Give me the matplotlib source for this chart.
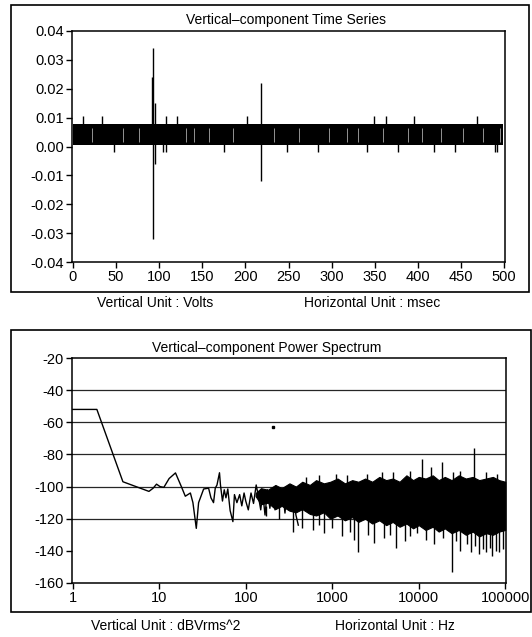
import numpy as np
import matplotlib
matplotlib.use("Agg")
import matplotlib.pyplot as plt
from matplotlib.patches import Rectangle

plt.rcParams['font.family'] = ['Liberation Sans', 'DejaVu Sans']
plt.rcParams['font.size'] = 10
plt.rcParams['axes.unicode_minus'] = False

# ---------- time series data (msec, volts) ----------
band_t = [0, 499]
band_lo = [0.0005, 0.0005]
band_hi = [0.0077, 0.0077]
spike_t = [12.3, 33.5, 47.7, 91.4, 92.6, 92.6, 95.3, 95.3, 104, 108, 108, 120.3,
           175.4, 201.7, 217.8, 217.8, 247.7, 283.7, 341.4, 349, 363, 376.4,
           396, 419, 443, 468.4, 489, 491.6]
spike_v = [0.0105, 0.0105, -0.0018, 0.024, 0.034, -0.032, 0.015, -0.006, -0.002,
           0.0105, -0.002, 0.0105, -0.002, 0.0105, 0.022, -0.012, -0.002, -0.002,
           -0.002, 0.0105, 0.0105, -0.002, 0.0105, -0.002, -0.002, 0.0105,
           -0.002, -0.002]
gap_t = [22, 58, 77, 131, 140, 158, 186, 233, 262, 297, 318, 330, 359, 388, 405,
         427, 452, 476, 495]

# ---------- power spectrum data (Hz, dBVrms^2) ----------
trace_f = [1, 1.9, 3.8, 7.6, 8.5, 9.3, 10.2, 11.3, 13, 15.4, 18, 20, 22.9, 24.5,
           26.8, 28.5, 32.6, 37.2, 39.6, 42.4, 44.4, 46.5, 49.7, 51, 53.8, 56.4,
           59, 62, 66, 71, 74, 79, 85, 90, 95.6, 100, 107, 115, 123, 132, 140,
           149, 157, 167, 178, 190, 204, 218, 233, 250, 266, 284, 303, 324, 350,
           380, 405]
trace_db = [-52, -52, -97, -103, -101, -98.5, -100, -100.5, -95, -91.5, -100, -106,
            -104, -110, -126, -110, -101.5, -101, -107, -110, -101, -99, -91.4,
            -99, -109, -102, -107, -101.5, -115, -121.8, -105, -110, -105, -112,
            -104, -109, -114.5, -104, -110.5, -99, -106, -114.5, -104, -117.7,
            -102, -113.5, -102, -114.5, -101, -112.5, -102, -116.5, -100, -114.5,
            -101, -117.7, -124]
env_f = [130, 150, 180, 220, 260, 320, 380, 450, 550, 650, 800, 950, 1150, 1400,
         1700, 2000, 2400, 2900, 3500, 4200, 5000, 6000, 7200, 8600, 10000, 12000,
         14500, 17000, 20000, 24000, 29000, 35000, 42000, 50000, 60000, 72000,
         85000, 100000]
env_hi = [-104, -101, -102, -99, -101, -98, -100, -97, -99, -96, -98, -97, -95, -98,
          -96, -97, -95, -97, -94, -96, -95, -97, -93, -96, -94, -95, -93, -96,
          -94, -96, -93, -95, -94, -96, -95, -94, -96, -97]
env_lo = [-106, -111, -110, -114, -112, -115, -116, -114, -117, -118, -116, -120,
          -118, -121, -119, -122, -120, -123, -121, -124, -122, -125, -123, -126,
          -124, -127, -125, -128, -126, -129, -127, -130, -128, -131, -129, -130,
          -128, -127]
down_f = [170, 240, 350, 450, 600, 700, 800, 1000, 1300, 1600, 1800, 2000, 2600,
          3000, 4000, 4700, 5400, 7000, 8000, 9500, 12000, 15000, 19000, 24000,
          27000, 30000, 36000, 40000, 45000, 50000, 56000, 60000, 66000, 70000,
          78000, 85000, 95000]
down_db = [-118, -120, -128, -126, -127, -124, -129, -126, -131, -128, -133, -141,
           -130, -135, -132, -130, -138, -134, -131, -129, -133, -136, -132, -153,
           -134, -140, -136, -141, -137, -142, -139, -141, -138, -143, -140, -141,
           -139]
up_f = [500, 700, 1100, 1500, 2500, 3800, 5000, 8000, 11000, 14000, 18700, 25000,
        30000, 43000, 60000, 80000]
up_db = [-94, -93, -92, -93, -92, -91, -91, -90, -83, -88, -85, -91, -90, -76, -91,
         -92]
dot_f = [206]
dot_db = [-63]

W, H = 532, 637
fig = plt.figure(figsize=(W / 100, H / 100), dpi=100)


def fx(px):
    return px / W


def fy(py):
    return 1 - py / H


def box(x0, y0, x1, y1):
    fig.add_artist(Rectangle((fx(x0), fy(y1)), (x1 - x0) / W, (y1 - y0) / H,
                             transform=fig.transFigure, fill=False, lw=1.2, color='black'))


# outer frames
box(11, 5, 529, 292)
box(11, 330, 531, 612)

# ---------- top panel ----------
ax1 = fig.add_axes([fx(72), fy(262), (505 - 72) / W, (262 - 31) / H])
ax1.fill_between(band_t, band_lo, band_hi, color='black', lw=0)
ax1.vlines(gap_t, 0.0015, 0.0065, color='white', lw=0.4)
ax1.vlines(spike_t, 0.004, spike_v, color='black', lw=1.0)
ax1.set_xlim(-1, 501)
ax1.set_ylim(-0.04, 0.04)
ax1.set_xticks(range(0, 501, 50))
ax1.set_yticks(np.round(np.arange(-0.04, 0.041, 0.01), 2))
ax1.set_yticklabels(['%.2f' % v for v in np.arange(-0.04, 0.041, 0.01)])
ax1.tick_params(direction='out', length=4, width=1, pad=2, labelsize=10.5)
for s in ax1.spines.values():
    s.set_linewidth(1.1)

fig.text(fx(286), fy(20), 'Vertical–component Time Series', ha='center', va='center')
fig.text(fx(155), fy(303), 'Vertical Unit : Volts', ha='center', va='center')
fig.text(fx(372), fy(303), 'Horizontal Unit : msec', ha='center', va='center')

# ---------- bottom panel ----------
ax2 = fig.add_axes([fx(72), fy(583), (506 - 72) / W, (583 - 358) / H])
ax2.set_xscale('log')
for g in range(-40, -139, -20):
    ax2.axhline(g, color='0.15', lw=0.9, zorder=1)
ax2.fill_between(env_f, env_lo, env_hi, color='black', lw=0.8, zorder=2)
ax2.vlines(down_f, -112, down_db, color='black', lw=1.0, zorder=2)
ax2.vlines(up_f, -100, up_db, color='black', lw=1.0, zorder=2)
ax2.plot(trace_f, trace_db, color='black', lw=1.0, zorder=3)
ax2.plot(dot_f, dot_db, 's', color='black', ms=1.5)
ax2.set_xlim(0.98, 102000)
ax2.set_ylim(-160, -20)
ax2.set_xticks([1, 10, 100, 1000, 10000, 100000])
ax2.set_xticklabels(['1', '10', '100', '1000', '10000', '100000'])
ax2.xaxis.set_minor_locator(matplotlib.ticker.NullLocator())
ax2.set_yticks(range(-160, -19, 20))
ax2.tick_params(direction='out', length=4, width=1, pad=2, labelsize=10.5)
for s in ax2.spines.values():
    s.set_linewidth(1.1)

fig.text(fx(267), fy(348), 'Vertical–component Power Spectrum', ha='center', va='center')
fig.text(fx(166), fy(626), 'Vertical Unit : dBVrms^2', ha='center', va='center')
fig.text(fx(395), fy(626), 'Horizontal Unit : Hz', ha='center', va='center')

fig.savefig('out.png', dpi=100)
